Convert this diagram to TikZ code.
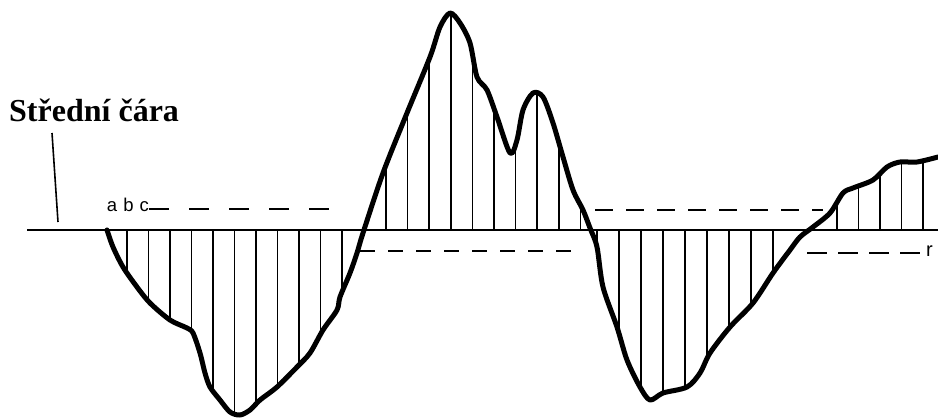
\documentclass[tikz,border=0pt]{standalone}
\usepackage{fontspec}
\setmainfont{Liberation Serif}
\newfontfamily\labelfont{Liberation Sans}
\tikzset{
    profile/.style={line width=5pt, line join=round, line cap=round},
    hatch/.style={line width=1.7pt},
    meanline/.style={line width=2.6pt},
    dashline/.style={line width=2pt, dash pattern=on 18pt off 13pt},
}
\begin{document}
\begin{tikzpicture}[x=1pt,y=-1pt]
    \useasboundingbox[fill=white] (0,0) rectangle (938,418);

    % profil drsnosti
    \def\profilepath{plot[smooth,tension=0.5] coordinates {
        (107,230) (113,247) (123,267) (137,287) (150,303) (170,320) (187,328)
        (193,333) (200,353) (205,373) (210,387) (220,400) (230,412) (240,415)
        (250,410) (260,400) (277,387) (297,367) (310,353) (323,330) (337,310)
        (340,297) (350,273) (357,253) (363,233) (383,173) (407,113) (430,57)
        (440,27) (450,13) (460,23) (470,43) (477,77) (487,90) (497,117)
        (510,153) (517,140) (523,110) (533,93) (543,97) (553,123) (563,157)
        (573,190) (583,210) (590,228) (597,247) (603,287) (617,327) (627,360)
        (640,387) (650,400) (663,393) (687,387) (700,373) (710,353) (730,327)
        (753,303) (773,273) (790,250) (800,237) (813,227) (830,213) (843,193)
        (853,188) (873,180) (887,167) (900,162) (917,162) (938,157)}}

    \begin{scope}
        \clip \profilepath -- (938,230) -- (107,230) -- cycle;
        \foreach \x in {127,148.5,...,344} {
            \draw[hatch] (\x,0) -- (\x,418);
        }
        \foreach \x in {386,407.6,...,582} {
            \draw[hatch] (\x,0) -- (\x,418);
        }
        \foreach \x in {597,619,...,775} {
            \draw[hatch] (\x,0) -- (\x,418);
        }
        \foreach \x in {837,858.5,...,938} {
            \draw[hatch] (\x,0) -- (\x,418);
        }
    \end{scope}

    \coordinate (mstart) at (27,230);
    \coordinate (mend) at (938,230);
    \draw[meanline] (mstart) -- (mend);
    \draw[profile] \profilepath;

    % popisky
    \node[anchor=base west, inner sep=0pt, font=\bfseries\fontsize{32}{36}\selectfont] (title) at (9,121) {Střední čára};
    \coordinate (ptrtop) at (52,133);
    \coordinate (ptrbot) at (58,222);
    \draw[line width=1.6pt] (ptrtop) -- (ptrbot);

    \node[anchor=base east, inner sep=0pt, font=\labelfont\fontsize{18.5}{22}\selectfont] (abc) at (149,211) {a\hspace{6pt}b\hspace{6pt}c};
    \node[anchor=west, inner sep=0pt, font=\labelfont\fontsize{20}{24}\selectfont] (r) at (926,251) {r};

    \coordinate (d1a) at (153,209);
    \coordinate (d1b) at (336,209);
    \draw[dashline, dash pattern=on 20pt off 20pt] (abc.east |- d1a) -- (d1b);
    \coordinate (d2a) at (595,210);
    \coordinate (d2b) at (823,210);
    \draw[dashline] (d2a) -- (d2b);
    \coordinate (d3a) at (360,251);
    \coordinate (d3b) at (574,251);
    \draw[dashline, dash pattern=on 15pt off 13pt] (d3a) -- (d3b);
    \coordinate (d4a) at (807,253);
    \draw[dashline, dash pattern=on 20pt off 11pt] (d4a) -- (r.west |- d4a);
\end{tikzpicture}
\end{document}
